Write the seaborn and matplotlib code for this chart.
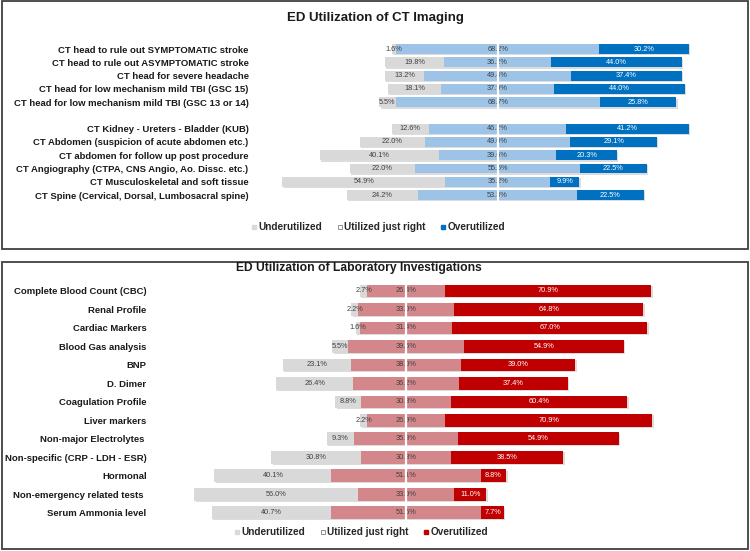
import pandas as pd
import matplotlib
matplotlib.use("Agg")
import matplotlib.pyplot as plt
import seaborn as sns
from matplotlib.lines import Line2D
from matplotlib.patches import Rectangle
from matplotlib.patheffects import SimplePatchShadow, Normal

# ---- CT imaging data ----
ct_items = ["CT head to rule out SYMPTOMATIC stroke",
            "CT head to rule out ASYMPTOMATIC stroke",
            "CT head for severe headache",
            "CT head for low mechanism mild TBI (GSC 15)",
            "CT head for low mechanism mild TBI (GSC 13 or 14)",
            " ",
            "CT Kidney - Ureters - Bladder (KUB)",
            "CT Abdomen (suspicion of acute abdomen etc.)",
            "CT abdomen for follow up post procedure",
            "CT Angiography (CTPA, CNS Angio, Ao. Dissc. etc.)",
            "CT Musculoskeletal and soft tissue",
            "CT Spine (Cervical, Dorsal, Lumbosacral spine)"]
ct_under = [1.6, 19.8, 13.2, 18.1, 5.5, None, 12.6, 22.0, 40.1, 22.0, 54.9, 24.2]
ct_right = [68.2, 36.2, 49.4, 37.9, 68.7, None, 46.2, 49.0, 39.6, 55.5, 35.2, 53.3]
ct_over = [30.2, 44.0, 37.4, 44.0, 25.8, None, 41.2, 29.1, 20.3, 22.5, 9.9, 22.5]

# ---- Laboratory data ----
lab_items = ["Complete Blood Count (CBC)", "Renal Profile", "Cardiac Markers",
             "Blood Gas analysis", "BNP", "D. Dimer", "Coagulation Profile",
             "Liver markers", "Non-major Electrolytes ",
             "Non-specific (CRP - LDH - ESR)", "Hormonal",
             "Non-emergency related tests ", "Serum Ammonia level"]
lab_under = [2.7, 2.2, 1.6, 5.5, 23.1, 26.4, 8.8, 2.2, 9.3, 30.8, 40.1, 56.0, 40.7]
lab_right = [26.4, 33.0, 31.4, 39.6, 38.0, 36.2, 30.8, 26.9, 35.8, 30.8, 51.1, 33.0, 51.6]
lab_over = [70.9, 64.8, 67.0, 54.9, 39.0, 37.4, 60.4, 70.9, 54.9, 38.5, 8.8, 11.0, 7.7]

legend_labels = ["Underutilized", "Utilized just right", "Overutilized"]

sns.set_theme(style="white")
plt.rcParams["font.family"] = ["Liberation Sans", "DejaVu Sans"]

GREY = "#D9D9D9"
TXT = "#404040"
shadow = [SimplePatchShadow(offset=(1.0, -1.0), shadow_rgbFace="#8c8c8c", alpha=0.3), Normal()]


def draw_panel(ax, items, under, right, over, mid_col, over_col, bar_w, lab_size):
    rows = []
    for name, u, r, o in zip(items, under, right, over):
        if u is None:
            continue
        rows.append({"item": name, "neg_full": -(u + r / 2), "neg_mid": -r / 2,
                     "pos_full": r / 2 + o, "pos_mid": r / 2})
    df = pd.DataFrame(rows)

    # layered bars: full extents first, middle segment on top
    for col, c, shade in [("neg_full", GREY, True), ("pos_full", over_col, True),
                          ("neg_mid", mid_col, False), ("pos_mid", mid_col, False)]:
        n0 = len(ax.patches)
        sns.barplot(data=df, x=col, y="item", order=items, color=c, width=bar_w,
                    saturation=1, errorbar=None, orient="h", linewidth=0, ax=ax)
        if shade:
            for p in ax.patches[n0:]:
                p.set_path_effects(shadow)

    for i, (u, r, o) in enumerate(zip(under, right, over)):
        if u is None:
            continue
        ax.text(-(r / 2 + u / 2), i, f"{u:.1f}%", ha="center", va="center",
                fontsize=5.3, color=TXT, zorder=4)
        ax.text(0, i, f"{r:.1f}%", ha="center", va="center",
                fontsize=5.3, color=TXT, zorder=4)
        ax.text(r / 2 + o / 2, i, f"{o:.1f}%", ha="center", va="center",
                fontsize=5.3, color="white", zorder=4)

    ax.axvline(0, color="white", lw=1.6, zorder=6)
    ax.set_xlabel("")
    ax.set_ylabel("")
    ax.set_xticks([])
    ax.tick_params(axis="y", length=0, pad=2.5)
    for t in ax.get_yticklabels():
        t.set_fontweight("bold")
        t.set_fontsize(lab_size)
        t.set_color("#1a1a1a")
    sns.despine(ax=ax, left=True, bottom=True)


fig = plt.figure(figsize=(7.5, 5.51), dpi=100)

ax1 = fig.add_axes([252 / 750, 0.634, (745 - 252) / 750, 0.923 - 0.634])
draw_panel(ax1, ct_items, ct_under, ct_right, ct_over, "#9DC3E6", "#0070C0", 0.75, 6.8)
ax1.set_xlim(-82.7, 83.3)

ax2 = fig.add_axes([150 / 750, 0.0526, (662 - 150) / 750, 0.489 - 0.0526])
draw_panel(ax2, lab_items, lab_under, lab_right, lab_over, "#D4878B", "#C00000", 0.68, 6.8)
ax2.set_xlim(-87.7, 87.7)

# titles
fig.text(375 / 750, 1 - 18 / 551, "ED Utilization of CT Imaging", ha="center", va="center",
         fontsize=9.5, fontweight="bold", color="#1a1a1a")
fig.text(359 / 750, 1 - 268 / 551, "ED Utilization of Laboratory Investigations", ha="center",
         va="center", fontsize=8.7, fontweight="bold", color="#1a1a1a")

# legends
def legend_handles(over_col):
    return [Line2D([], [], marker="s", ls="", ms=3.5, mfc=GREY, mec=GREY),
            Line2D([], [], marker="s", ls="", ms=3.5, mfc="white", mec="#7f7f7f", mew=0.6),
            Line2D([], [], marker="s", ls="", ms=3.5, mfc=over_col, mec=over_col)]

for (oc, cx, cy) in [("#0070C0", 378, 227), ("#C00000", 361, 532)]:
    fig.legend(legend_handles(oc), legend_labels, loc="center",
               bbox_to_anchor=(cx / 750, 1 - cy / 551), ncol=3, frameon=False,
               prop={"weight": "bold", "size": 7.2}, handletextpad=0.1,
               columnspacing=1.4, handlelength=0.7, borderpad=0)

# panel borders
for (top, bot) in [(1, 249), (262, 549)]:
    fig.add_artist(Rectangle((1.5 / 750, 1 - bot / 551), 746.5 / 750, (bot - top) / 551,
                             transform=fig.transFigure, fill=False, ec="#404040", lw=1.3))

fig.savefig("out.png", dpi=100)
